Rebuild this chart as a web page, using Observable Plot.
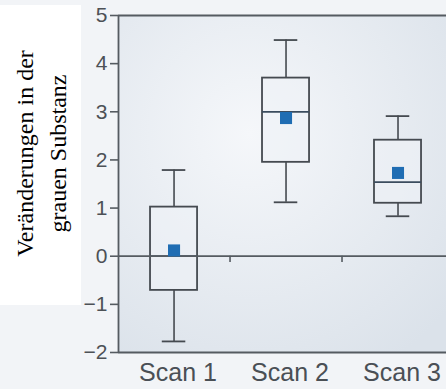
<!DOCTYPE html>
<html>
<head>
<meta charset="utf-8">
<script src="https://cdn.jsdelivr.net/npm/d3@7"></script>
<script src="https://cdn.jsdelivr.net/npm/@observablehq/plot@0.6"></script>
<style>
  html, body { margin: 0; padding: 0; background: #f2f4f7; }
  #wrap { position: relative; width: 446px; height: 389px; overflow: hidden; background: #f2f4f7; }
  #wrap svg { position: absolute; left: 0; top: 0; }
  #ylab { position: absolute; left: 0; top: 5px; width: 81px; height: 300px; background: #ffffff; }
  #ylab div { position: absolute; width: 300px; height: 81px; left: -109.5px; top: 107.5px;
    transform: rotate(-90deg); display: flex; flex-direction: column; justify-content: center;
    text-align: center; font-family: "Liberation Serif", "Times New Roman", serif; font-size: 24px;
    line-height: 33px; color: #000; white-space: nowrap; }
</style>
</head>
<body>
<div id="wrap"></div>
<script>
// ---- data ----
const scans = ["Scan 1", "Scan 2", "Scan 3"];
const whiskerLow  = [-1.77, 1.12, 0.83];
const q1          = [-0.71, 1.95, 1.10];
const median      = [0.00, 3.00, 1.54];
const q3          = [1.02, 3.70, 2.41];
const whiskerHigh = [1.79, 4.49, 2.91];
const means       = [0.12, 2.87, 1.73];
const yTicks      = [-2, -1, 0, 1, 2, 3, 4, 5];
const yLabelLines = ["Veränderungen in der", "grauen Substanz"];

const rows = scans.map((s, i) => ({
  scan: s, pos: i + 1,
  lo: whiskerLow[i], q1: q1[i], med: median[i], q3: q3[i], hi: whiskerHigh[i], mean: means[i]
}));
const boundaries = scans.slice(1).map((s, i) => i + 1.5);

const half = 0.21, cap = 0.105;
const xDomain = [0.504, 3.433];
const axisColor = "#555b61";
const boxColor = "#454a50";

const chart = Plot.plot({
  width: 446,
  height: 389,
  marginLeft: 118,
  marginRight: 0,
  marginTop: 15,
  marginBottom: 37,
  style: { background: "transparent", fontFamily: "'Liberation Sans', Arial, sans-serif", overflow: "visible" },
  x: { type: "linear", domain: xDomain },
  y: { domain: [-2, 5] },
  marks: [
    Plot.frame({ fill: "url(#plotbg)", stroke: "none" }),
    // whiskers
    Plot.ruleX(rows, { x: "pos", y1: "q3", y2: "hi", stroke: boxColor, strokeWidth: 1.6 }),
    Plot.ruleX(rows, { x: "pos", y1: "lo", y2: "q1", stroke: boxColor, strokeWidth: 1.6 }),
    Plot.ruleY(rows, { y: "hi", x1: d => d.pos - cap, x2: d => d.pos + cap, stroke: boxColor, strokeWidth: 1.8 }),
    Plot.ruleY(rows, { y: "lo", x1: d => d.pos - cap, x2: d => d.pos + cap, stroke: boxColor, strokeWidth: 1.8 }),
    // boxes
    Plot.rect(rows, { x1: d => d.pos - half, x2: d => d.pos + half, y1: "q1", y2: "q3",
      fill: "#eef2f7", fillOpacity: 0.6, stroke: boxColor, strokeWidth: 1.8 }),
    // medians
    Plot.ruleY(rows, { y: "med", x1: d => d.pos - half, x2: d => d.pos + half, stroke: "#3b4c5e", strokeWidth: 1.8 }),
    // axis lines: top, zero, bottom
    Plot.ruleY([-2, 0, 5], { stroke: axisColor, strokeWidth: 1.8, inset: 0 }),
    Plot.ruleX([xDomain[0]], { stroke: axisColor, strokeWidth: 1.8 }),
    // little ticks between groups on zero line
    Plot.ruleX(boundaries, { y1: 0, y2: -0.13, stroke: axisColor, strokeWidth: 1.6 }),
    // means
    Plot.dot(rows, { x: "pos", y: "mean", symbol: "square", r: 6.8, fill: "#1f6db3", stroke: "none" }),
    Plot.axisY({ ticks: yTicks, tickSize: 8, tickPadding: 3, fontSize: 21, color: "#4d5156",
      stroke: axisColor, strokeWidth: 1.6, label: null,
      tickFormat: d => d < 0 ? "\u2212" + (-d) : String(d) }),
    Plot.axisX({ ticks: rows.map(d => d.pos), tickSize: 0, tickPadding: 11, fontSize: 25, dx: 4,
      color: "#4a4f55", label: null, tickFormat: d => scans[Math.round(d) - 1] })
  ]
});

// gradient background for the plotting area
const svg = d3.select(chart);
const defs = svg.insert("defs", ":first-child");
const grad = defs.append("radialGradient").attr("id", "plotbg")
  .attr("cx", "0.4").attr("cy", "0.35").attr("r", "0.8");
grad.append("stop").attr("offset", "0").attr("stop-color", "#f5f7fa");
grad.append("stop").attr("offset", "1").attr("stop-color", "#dbe2ea");

const wrap = document.getElementById("wrap");
wrap.appendChild(chart);
const ylab = document.createElement("div");
ylab.id = "ylab";
const inner = document.createElement("div");
yLabelLines.forEach(t => { const s = document.createElement("span"); s.textContent = t; inner.appendChild(s); });
ylab.appendChild(inner);
wrap.appendChild(ylab);
</script>
</body>
</html>
